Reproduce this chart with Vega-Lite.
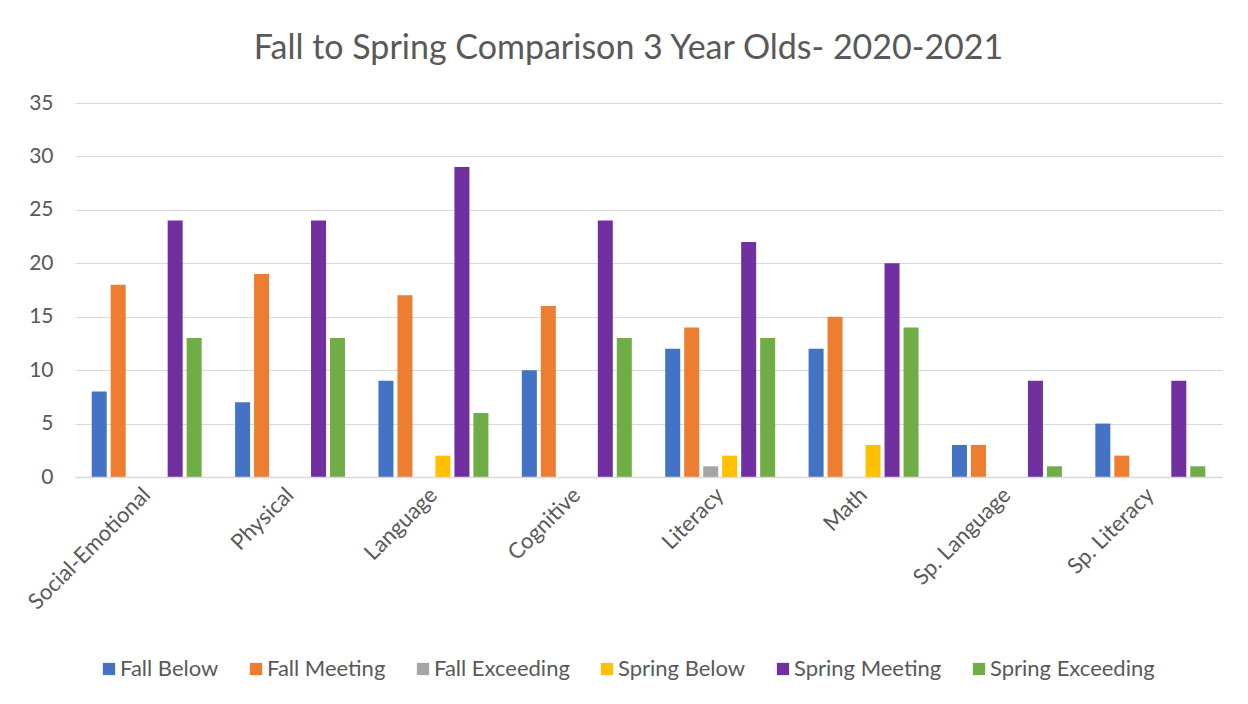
{
  "$schema": "https://vega.github.io/schema/vega-lite/v6.json",
  "autosize": "none",
  "width": 1147,
  "height": 374,
  "padding": {"left": 75, "top": 103, "right": 26, "bottom": 227},
  "background": "#ffffff",
  "title": {
    "text": "Fall to Spring Comparison 3 Year Olds- 2020-2021",
    "font": "Lato",
    "fontSize": 34,
    "fontWeight": "normal",
    "color": "#595959",
    "anchor": "middle",
    "dx": -20,
    "offset": 26
  },
  "data": {
    "values": [
      {"domain": "Social-Emotional", "series": "Fall Below", "value": 8},
      {"domain": "Social-Emotional", "series": "Fall Meeting", "value": 18},
      {"domain": "Social-Emotional", "series": "Fall Exceeding", "value": 0},
      {"domain": "Social-Emotional", "series": "Spring Below", "value": 0},
      {"domain": "Social-Emotional", "series": "Spring Meeting", "value": 24},
      {"domain": "Social-Emotional", "series": "Spring Exceeding", "value": 13},
      {"domain": "Physical", "series": "Fall Below", "value": 7},
      {"domain": "Physical", "series": "Fall Meeting", "value": 19},
      {"domain": "Physical", "series": "Fall Exceeding", "value": 0},
      {"domain": "Physical", "series": "Spring Below", "value": 0},
      {"domain": "Physical", "series": "Spring Meeting", "value": 24},
      {"domain": "Physical", "series": "Spring Exceeding", "value": 13},
      {"domain": "Language", "series": "Fall Below", "value": 9},
      {"domain": "Language", "series": "Fall Meeting", "value": 17},
      {"domain": "Language", "series": "Fall Exceeding", "value": 0},
      {"domain": "Language", "series": "Spring Below", "value": 2},
      {"domain": "Language", "series": "Spring Meeting", "value": 29},
      {"domain": "Language", "series": "Spring Exceeding", "value": 6},
      {"domain": "Cognitive", "series": "Fall Below", "value": 10},
      {"domain": "Cognitive", "series": "Fall Meeting", "value": 16},
      {"domain": "Cognitive", "series": "Fall Exceeding", "value": 0},
      {"domain": "Cognitive", "series": "Spring Below", "value": 0},
      {"domain": "Cognitive", "series": "Spring Meeting", "value": 24},
      {"domain": "Cognitive", "series": "Spring Exceeding", "value": 13},
      {"domain": "Literacy", "series": "Fall Below", "value": 12},
      {"domain": "Literacy", "series": "Fall Meeting", "value": 14},
      {"domain": "Literacy", "series": "Fall Exceeding", "value": 1},
      {"domain": "Literacy", "series": "Spring Below", "value": 2},
      {"domain": "Literacy", "series": "Spring Meeting", "value": 22},
      {"domain": "Literacy", "series": "Spring Exceeding", "value": 13},
      {"domain": "Math", "series": "Fall Below", "value": 12},
      {"domain": "Math", "series": "Fall Meeting", "value": 15},
      {"domain": "Math", "series": "Fall Exceeding", "value": 0},
      {"domain": "Math", "series": "Spring Below", "value": 3},
      {"domain": "Math", "series": "Spring Meeting", "value": 20},
      {"domain": "Math", "series": "Spring Exceeding", "value": 14},
      {"domain": "Sp. Language", "series": "Fall Below", "value": 3},
      {"domain": "Sp. Language", "series": "Fall Meeting", "value": 3},
      {"domain": "Sp. Language", "series": "Fall Exceeding", "value": 0},
      {"domain": "Sp. Language", "series": "Spring Below", "value": 0},
      {"domain": "Sp. Language", "series": "Spring Meeting", "value": 9},
      {"domain": "Sp. Language", "series": "Spring Exceeding", "value": 1},
      {"domain": "Sp. Literacy", "series": "Fall Below", "value": 5},
      {"domain": "Sp. Literacy", "series": "Fall Meeting", "value": 2},
      {"domain": "Sp. Literacy", "series": "Fall Exceeding", "value": 0},
      {"domain": "Sp. Literacy", "series": "Spring Below", "value": 0},
      {"domain": "Sp. Literacy", "series": "Spring Meeting", "value": 9},
      {"domain": "Sp. Literacy", "series": "Spring Exceeding", "value": 1}
    ]
  },
  "mark": {"type": "bar"},
  "encoding": {
    "x": {
      "field": "domain",
      "type": "nominal",
      "sort": null,
      "scale": {"paddingInner": 0.233, "paddingOuter": 0.1165},
      "axis": {
        "title": null,
        "labelAngle": -45,
        "labelAlign": "right",
        "labelBaseline": "middle",
        "labelFont": "Lato",
        "labelFontSize": 22,
        "labelColor": "#595959",
        "labelPadding": 14,
        "ticks": false,
        "domainColor": "#D9D9D9",
        "domainWidth": 1.5,
        "zindex": 1
      }
    },
    "xOffset": {
      "field": "series",
      "type": "nominal",
      "sort": ["Fall Below", "Fall Meeting", "Fall Exceeding", "Spring Below", "Spring Meeting", "Spring Exceeding"],
      "scale": {"paddingInner": 0.21, "paddingOuter": 0}
    },
    "y": {
      "field": "value",
      "type": "quantitative",
      "scale": {"domain": [0, 35]},
      "axis": {
        "title": null,
        "values": [0, 5, 10, 15, 20, 25, 30, 35],
        "labelFont": "Lato",
        "labelFontSize": 21,
        "labelColor": "#595959",
        "labelPadding": 22,
        "ticks": false,
        "domain": false,
        "gridColor": "#D9D9D9",
        "gridWidth": 1
      }
    },
    "color": {
      "field": "series",
      "type": "nominal",
      "scale": {
        "domain": ["Fall Below", "Fall Meeting", "Fall Exceeding", "Spring Below", "Spring Meeting", "Spring Exceeding"],
        "range": ["#4472C4", "#ED7D31", "#A5A5A5", "#FFC000", "#7030A0", "#70AD47"]
      },
      "legend": {
        "title": null,
        "orient": "none",
        "direction": "horizontal",
        "legendX": 23,
        "legendY": 555,
        "symbolType": "square",
        "symbolSize": 150,
        "symbolStrokeWidth": 0,
        "labelFont": "Lato",
        "labelFontSize": 22,
        "labelColor": "#595959",
        "labelOffset": 0,
        "labelLimit": 400,
        "columnPadding": 26,
        "padding": 0
      }
    }
  },
  "config": {
    "view": {"stroke": null}
  }
}
